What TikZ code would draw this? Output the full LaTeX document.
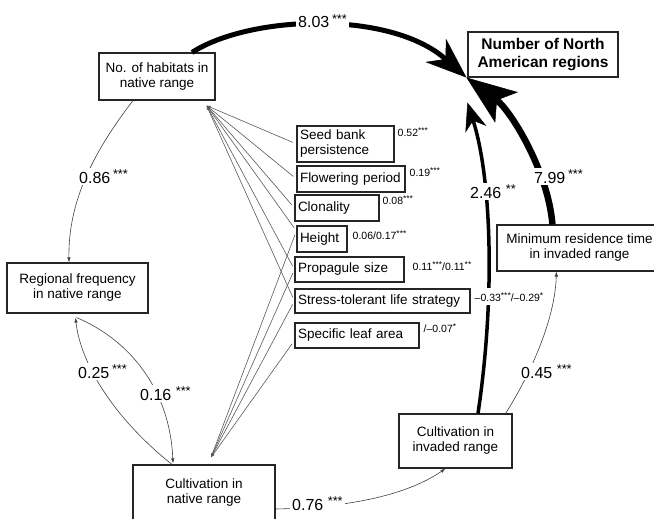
\documentclass[tikz,border=0pt]{standalone}
\usepackage{fontspec}
\setmainfont{Liberation Sans}
\usetikzlibrary{arrows.meta}
\newcommand\sig[1]{\raisebox{0.28em}{\scalebox{0.8}{#1}}}
\begin{document}
\begin{tikzpicture}[x=1pt,y=-1pt,
  box/.style={draw=black!85, line width=1.1pt, fill=white, inner sep=2pt,
    font=\fontsize{13.5}{15}\selectfont, align=center},
  trait/.style={draw=black!85, line width=1.1pt, fill=white, inner sep=0pt,
    font=\fontsize{13.5}{15}\selectfont, align=left},
  lab/.style={fill=white, inner sep=2pt, anchor=base west, font=\fontsize{16}{18}\selectfont},
  slab/.style={inner sep=0.5pt, anchor=base west, font=\fontsize{10.5}{12}\selectfont},
  trline/.style={draw=black!65, line width=0.6pt, -{Latex[length=4pt,width=3pt]}, shorten <=4pt},
  arr/.style={draw=black!75, line width=0.6pt, -{Latex[length=5pt,width=3.5pt]}},
]
\useasboundingbox (0,0) rectangle (654,519);
\clip (0,0) rectangle (654,519);

% main nodes
\node[box, minimum width=116pt, minimum height=47pt] (hab) at (157,76.5) {No. of habitats in\\native range};
\node[box, minimum width=150pt, minimum height=45pt, font=\fontsize{15.5}{18}\selectfont\bfseries] (nar) at (543,54.5) {Number of North\\American regions};
\node[box, minimum width=141pt, minimum height=50pt] (reg) at (77.5,288) {Regional frequency\\in native range};
\node[box, minimum width=142pt, minimum height=56pt] (cnat) at (204,493) {Cultivation in\\native range};
\node[box, minimum width=113pt, minimum height=54pt] (cinv) at (455.5,441) {Cultivation in\\invaded range};
\node[box, minimum width=165pt, minimum height=46pt] (mres) at (579.5,248) {Minimum residence time\\in invaded range};

% trait nodes
\node[trait, minimum width=97pt, minimum height=36pt, text width=91pt] (seed) at (345.5,144) {Seed bank\\persistence};
\node[trait, minimum width=108pt, minimum height=26pt, text width=102pt] (flow) at (351,179) {Flowering period};
\node[trait, minimum width=84pt, minimum height=26pt, text width=78pt] (clon) at (337,208) {Clonality};
\node[trait, minimum width=50pt, minimum height=26pt, text width=44pt] (hgt) at (322,239) {Height};
\node[trait, minimum width=109pt, minimum height=25pt, text width=103pt] (prop) at (349.5,269.5) {Propagule size};
\node[trait, minimum width=175pt, minimum height=24pt, text width=169pt] (stress) at (382.5,301) {Stress-tolerant life strategy};
\node[trait, minimum width=124pt, minimum height=25pt, text width=118pt] (sla) at (357,335.5) {Specific leaf area};

\coordinate (T) at ([xshift=-9pt,yshift=-5pt]hab.south east);
\coordinate (B) at ([xshift=7pt,yshift=7pt]cnat.north);

% trait connectors
\foreach \n in {seed,flow,clon,prop,stress} \draw[trline] (\n.west) -- (T);
\draw[trline] ([yshift=8pt]hgt.west) -- (T);
\foreach \n in {prop,stress} \draw[trline] (\n.west) -- (B);
\draw[trline] ([yshift=8pt]hgt.west) -- (B);
\draw[trline] ([yshift=-5pt]sla.west) -- (B);

% thin paths
\draw[arr] ([xshift=-24pt]hab.south) .. controls (95,150) and (68,200) .. ([xshift=-8.5pt]reg.north);
\draw[arr] ([xshift=-32pt]cnat.north) .. controls (110,415) and (80,360) .. ([xshift=-2pt,yshift=-4pt]reg.south);
\draw[arr] ([xshift=-1pt,yshift=-4pt]reg.south) .. controls (130,340) and (170,390) .. ([xshift=-31pt,yshift=1pt]cnat.north);
\draw[arr] ([yshift=-16pt]cnat.east) .. controls (330,508) and (400,500) .. ([xshift=-10pt]cinv.south);
\draw[arr] ([xshift=-7pt]cinv.north east) .. controls (530,375) and (555,320) .. ([xshift=60pt]mres.south west);

% thick paths
\draw[line width=5pt, -{Stealth[length=41pt,width=31pt,inset=13pt,line width=0.5pt]}]
  ([xshift=35pt]hab.north) .. controls (250,15) and (390,10) .. ([xshift=-1pt]nar.south west);
\draw[line width=6.5pt, -{Stealth[length=50pt,width=38pt,inset=12pt,line width=0.5pt]}]
  ([xshift=56pt]mres.north west) .. controls (548,170) and (510,110) .. ([xshift=-1pt]nar.south west);
\draw[line width=3.5pt, -{Stealth[length=28pt,width=22pt,inset=9pt,line width=0.5pt]}]
  ([xshift=22.5pt]cinv.north) .. controls (495,300) and (492,180) .. ([yshift=-25pt]nar.south west);

% path labels
\node[lab] (l803) at (296,28) {8.03\,\sig{***}};
\node[lab] (l799) at (532,183) {7.99\,\sig{***}};
\node[lab] (l246) at (468,198) {2.46 \sig{**}};
\node[lab] (l086) at (77,183) {0.86\,\sig{***}};
\node[lab] (l025) at (76,378) {0.25\,\sig{***}};
\node[lab] (l016) at (138,400) {0.16 \sig{***}};
\node[lab] (l076) at (290,510) {0.76 \sig{***}};
\node[lab] (l045) at (519,378) {0.45 \sig{***}};

% trait labels
\node[slab] (s1) at (397,136) {0.52\sig{***}};
\node[slab] (s2) at (409,176) {0.19\sig{***}};
\node[slab] (s3) at (382,204) {0.08\sig{***}};
\node[slab] (s4) at (352,239) {0.06/0.17\sig{***}};
\node[slab] (s5) at (412,270) {0.11\sig{***}/0.11\sig{**}};
\node[slab, fill=white, inner ysep=4pt] (s6) at (474,301) {–0.33\sig{***}/–0.29\sig{*}};
\node[slab] (s7) at (423,332) {/–0.07\sig{*}};
\end{tikzpicture}
\end{document}
